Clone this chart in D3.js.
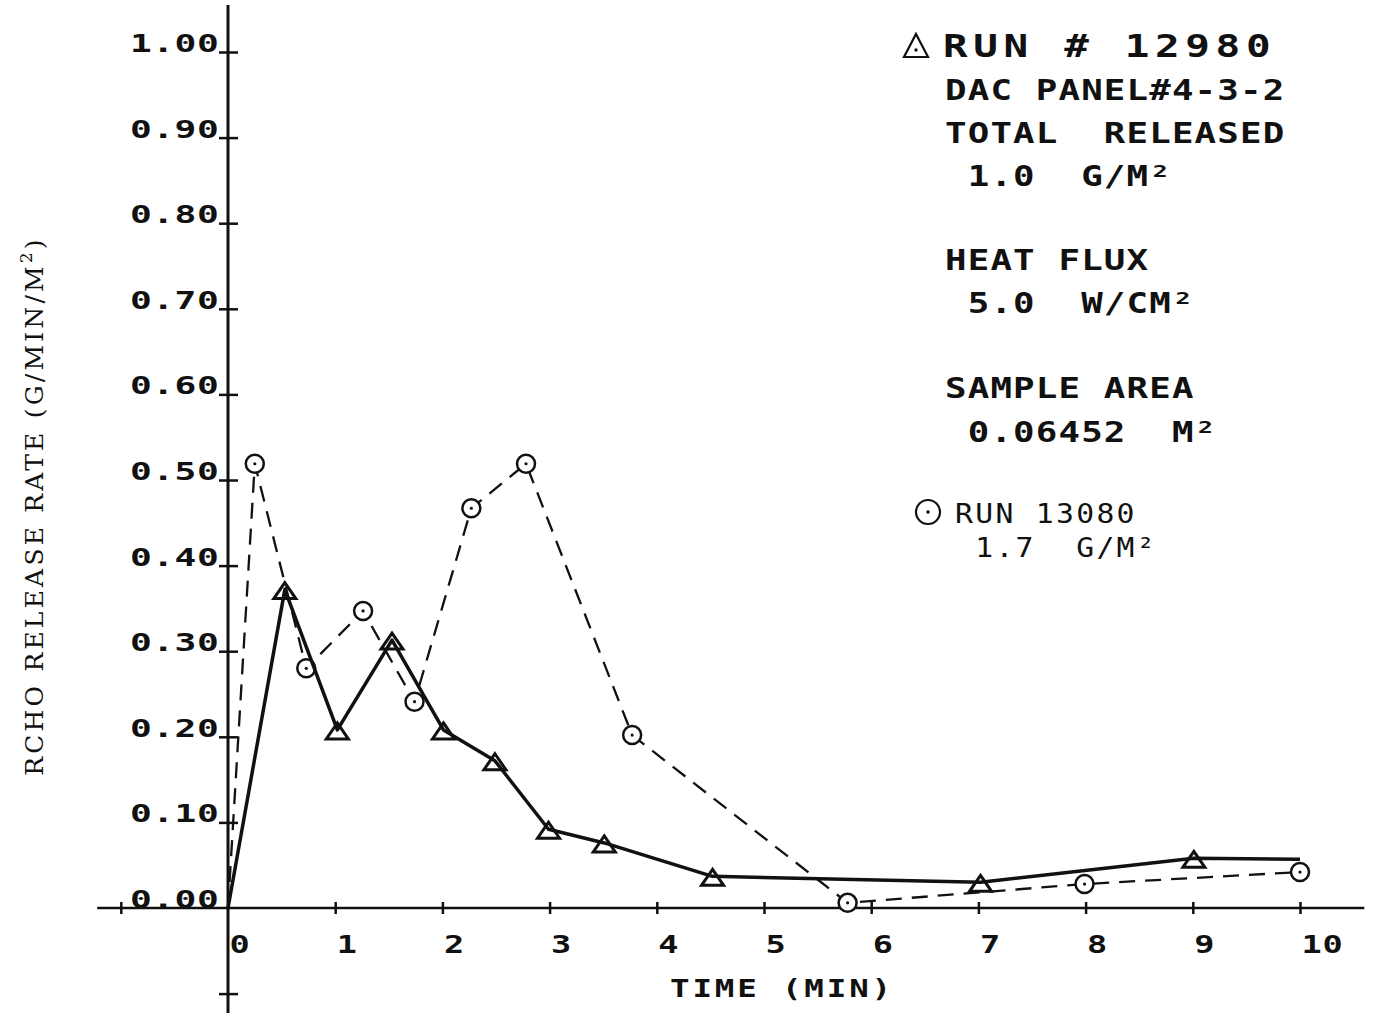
<!DOCTYPE html>
<html><head><meta charset="utf-8">
<script src="https://cdn.jsdelivr.net/npm/d3@7"></script>
<style>
body{margin:0;background:#fff}
svg{display:block}
.pl{font-family:"DejaVu Sans Mono",monospace;font-weight:bold;fill:#111;white-space:pre}
.thin{font-family:"DejaVu Sans Mono",monospace;font-weight:normal;fill:#111;white-space:pre}
</style>
</head><body>
<svg id="chart" width="1379" height="1013"></svg>
<script>
// ---- data ----
const timeRun12980 = [0, 0.53, 1.02, 1.53, 2.01, 2.49, 2.99, 3.51, 4.52, 7.02, 9.01, 10.0];
const rateRun12980 = [0, 0.372, 0.208, 0.313, 0.208, 0.172, 0.092, 0.076, 0.037, 0.030, 0.058, 0.057];
const markedRun12980 = [false, true, true, true, true, true, true, true, true, true, true, false];

const timeRun13080 = [0, 0.25, 0.73, 1.26, 1.74, 2.27, 2.78, 3.77, 5.78, 7.99, 10.0];
const rateRun13080 = [0, 0.519, 0.280, 0.347, 0.241, 0.467, 0.519, 0.202, 0.006, 0.028, 0.042];
const markedRun13080 = [false, true, true, true, true, true, true, true, true, true, true];

const xTickValues = [-1, 1, 2, 3, 4, 5, 6, 7, 8, 9, 10];
const xLabelValues = [0, 1, 2, 3, 4, 5, 6, 7, 8, 9, 10];
const xTickLabels = ["0", "1", "2", "3", "4", "5", "6", "7", "8", "9", "10"];
const yTickValues = [-0.1, 0.1, 0.2, 0.3, 0.4, 0.5, 0.6, 0.7, 0.8, 0.9, 1.0];
const yLabelValues = [0, 0.1, 0.2, 0.3, 0.4, 0.5, 0.6, 0.7, 0.8, 0.9, 1.0];
const yTickLabels = ["0.00", "0.10", "0.20", "0.30", "0.40", "0.50", "0.60", "0.70", "0.80", "0.90", "1.00"];

const xTitle = "TIME (MIN)";
const yTitleMain = "RCHO RELEASE RATE (G/MIN/M";
const yTitleSup = "2";
const yTitleEnd = ")";

const legendTitle = "RUN # 12980";
const infoLines = ["DAC PANEL#4-3-2", "TOTAL  RELEASED", " 1.0  G/M²", "HEAT FLUX", " 5.0  W/CM²", "SAMPLE AREA", " 0.06452  M²"];
const secondRunLines = ["RUN 13080", " 1.7  G/M²"];

// ---- scales ----
const svg = d3.select("#chart");
const x = d3.scaleLinear().domain([0, 10]).range([228, 1300]);
const y = d3.scaleLinear().domain([0, 1]).range([908, 52]);

function ptext(g, str, px, py, f, sx, cell, cls) {
  const ls = cell / sx - 0.602 * f;
  return g.append("text").attr("class", cls || "pl")
    .attr("xml:space", "preserve")
    .attr("transform", `translate(${px},${py}) scale(${sx},1)`)
    .attr("font-size", f).attr("letter-spacing", ls)
    .text(str);
}

// ---- axes ----
const axG = svg.append("g");
axG.append("line").attr("x1", x(0)).attr("x2", x(0)).attr("y1", y(1.055)).attr("y2", 1013)
  .attr("stroke", "#111").attr("stroke-width", 3);
axG.append("line").attr("x1", x(-1.22)).attr("x2", x(10.6)).attr("y1", y(0)).attr("y2", y(0))
  .attr("stroke", "#111").attr("stroke-width", 2.5);

const yAxisG = svg.append("g").attr("transform", `translate(${x(0)},0)`)
  .call(d3.axisLeft(y).tickValues(yTickValues).tickSize(9).tickFormat(""));
yAxisG.select(".domain").remove();
yAxisG.selectAll(".tick line").attr("x1", 10).attr("stroke", "#111").attr("stroke-width", 2.5);

const xAxisG = svg.append("g").attr("transform", `translate(0,${y(0)})`)
  .call(d3.axisBottom(x).tickValues(xTickValues).tickSize(6).tickFormat(""));
xAxisG.select(".domain").remove();
xAxisG.selectAll(".tick line").attr("y1", -6).attr("stroke", "#111").attr("stroke-width", 2.5);

// tick labels
const tl = svg.append("g");
yLabelValues.forEach((v, i) => ptext(tl, yTickLabels[i], 130, y(v), 25, 1.45, 22.3));
xLabelValues.forEach((v, i) => ptext(tl, xTickLabels[i], x(v) + 1.5, 953, 24, 1.4, 21));

// axis titles
ptext(svg, xTitle, 670, 997, 25, 1.3, 22.4);
const yt = svg.append("text")
  .attr("transform", "translate(43,506) rotate(-90)")
  .attr("text-anchor", "middle")
  .attr("font-family", "'DejaVu Serif', 'Liberation Serif', serif")
  .attr("font-size", 25).attr("letter-spacing", 3.2).attr("fill", "#111");
yt.append("tspan").text(yTitleMain);
yt.append("tspan").attr("font-size", 17).attr("dy", -11).text(yTitleSup);
yt.append("tspan").attr("dy", 11).text(yTitleEnd);

// ---- series ----
const idxA = d3.range(timeRun12980.length);
const idxB = d3.range(timeRun13080.length);

svg.append("path")
  .attr("d", d3.line().x(i => x(timeRun13080[i])).y(i => y(rateRun13080[i]))(idxB))
  .attr("fill", "none").attr("stroke", "#111").attr("stroke-width", 2.3)
  .attr("stroke-dasharray", "16,10");

const circG = svg.append("g");
idxB.filter(i => markedRun13080[i]).forEach(i => {
  const cx = x(timeRun13080[i]), cy = y(rateRun13080[i]);
  circG.append("circle").attr("cx", cx).attr("cy", cy).attr("r", 9)
    .attr("fill", "#fff").attr("stroke", "#111").attr("stroke-width", 2.5);
  circG.append("circle").attr("cx", cx).attr("cy", cy).attr("r", 1.6).attr("fill", "#111");
});

svg.append("path")
  .attr("d", d3.line().x(i => x(timeRun12980[i])).y(i => y(rateRun12980[i]))(idxA))
  .attr("fill", "none").attr("stroke", "#111").attr("stroke-width", 3.5)
  .attr("stroke-linejoin", "round");

const triG = svg.append("g");
const tri = (cx, cy, hw, up, down) => `M${cx},${cy - up}L${cx + hw},${cy + down}L${cx - hw},${cy + down}Z`;
idxA.filter(i => markedRun12980[i]).forEach(i => {
  const cx = x(timeRun12980[i]), cy = y(rateRun12980[i]);
  triG.append("path").attr("d", tri(cx, cy, 11, 7, 9))
    .attr("fill", "none").attr("stroke", "#111").attr("stroke-width", 3).attr("stroke-linejoin", "miter");
});

// ---- legend / annotation block ----
const lg = svg.append("g");
lg.append("path").attr("d", tri(916, 46, 12, 12, 11))
  .attr("fill", "none").attr("stroke", "#111").attr("stroke-width", 2.2);
lg.append("circle").attr("cx", 916).attr("cy", 50).attr("r", 1.7).attr("fill", "#111");
ptext(lg, legendTitle, 943, 57, 31.5, 1.3, 30.3);

const infoBaselines = [100, 143, 186, 270, 313, 398, 442];
infoLines.forEach((s, i) => ptext(lg, s, 945, infoBaselines[i], 27.5, 1.3, 22.7));

lg.append("circle").attr("cx", 928).attr("cy", 512).attr("r", 12)
  .attr("fill", "none").attr("stroke", "#111").attr("stroke-width", 2.2);
lg.append("circle").attr("cx", 928).attr("cy", 512).attr("r", 1.8).attr("fill", "#111");
const secondBaselines = [523, 557];
secondRunLines.forEach((s, i) => ptext(lg, s, 955, secondBaselines[i], 27, 1.1, 20.2, "thin"));
</script>
</body></html>
